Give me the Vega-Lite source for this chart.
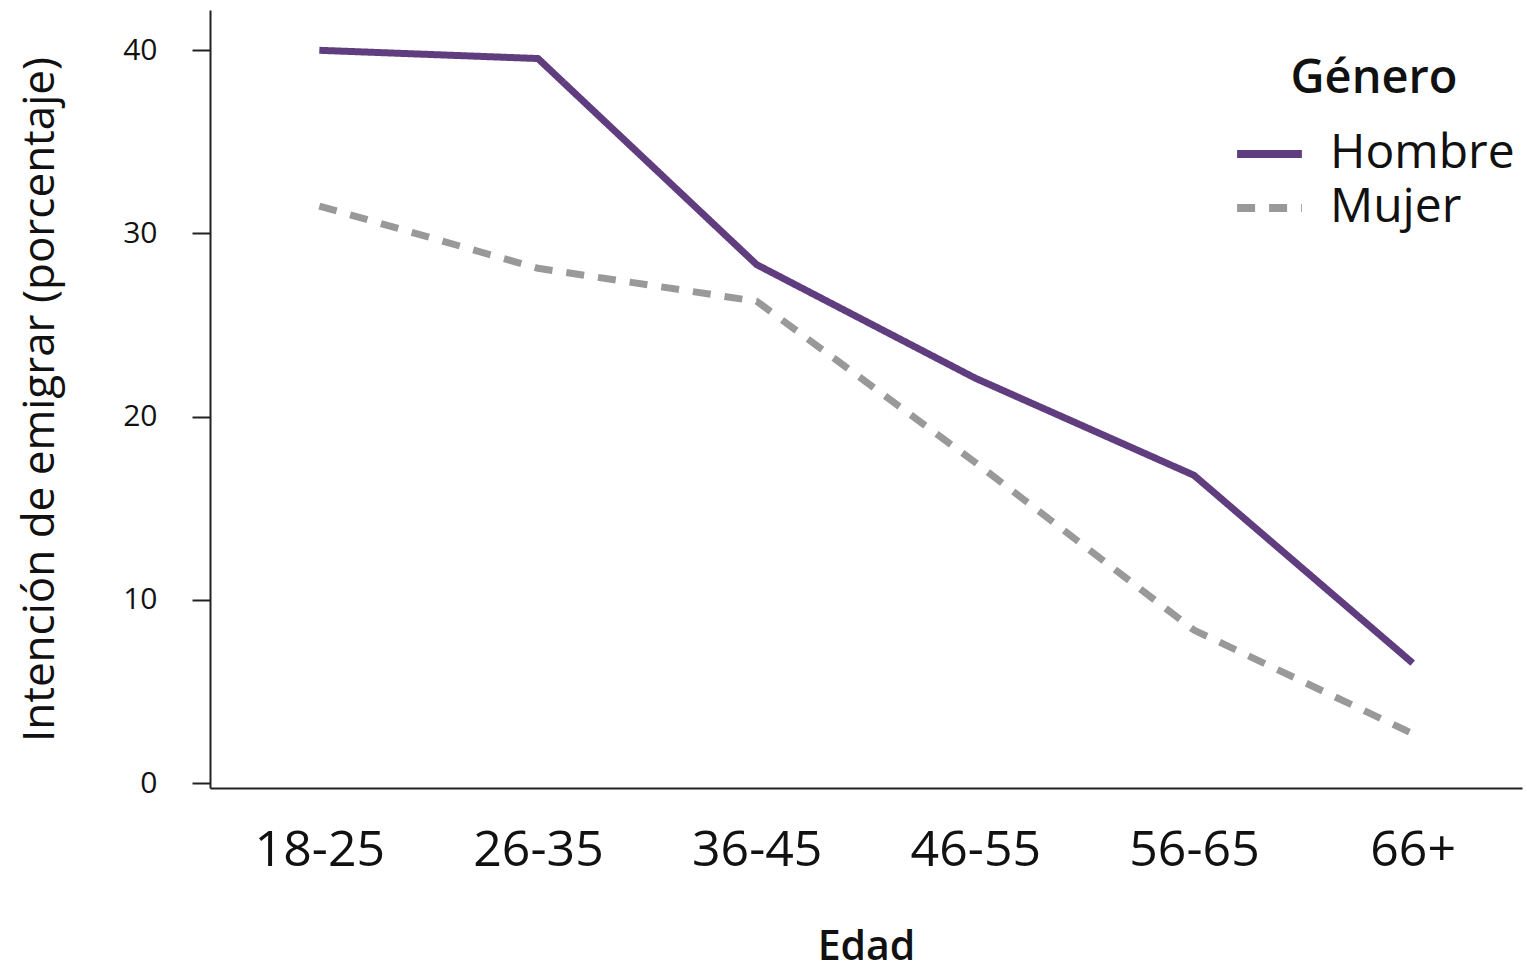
{
  "$schema": "https://vega.github.io/schema/vega-lite/v6.json",
  "autosize": "none",
  "width": 1312,
  "height": 778,
  "padding": {"left": 210, "top": 10, "right": 5, "bottom": 184},
  "background": "white",
  "config": {
    "view": {"stroke": null},
    "font": "Open Sans"
  },
  "data": {
    "values": [
      {"Edad": "18-25", "Genero": "Hombre", "valor": 40.0},
      {"Edad": "26-35", "Genero": "Hombre", "valor": 39.55},
      {"Edad": "36-45", "Genero": "Hombre", "valor": 28.3},
      {"Edad": "46-55", "Genero": "Hombre", "valor": 22.1},
      {"Edad": "56-65", "Genero": "Hombre", "valor": 16.8},
      {"Edad": "66+", "Genero": "Hombre", "valor": 6.55},
      {"Edad": "18-25", "Genero": "Mujer", "valor": 31.5},
      {"Edad": "26-35", "Genero": "Mujer", "valor": 28.1},
      {"Edad": "36-45", "Genero": "Mujer", "valor": 26.3},
      {"Edad": "46-55", "Genero": "Mujer", "valor": 17.5},
      {"Edad": "56-65", "Genero": "Mujer", "valor": 8.35},
      {"Edad": "66+", "Genero": "Mujer", "valor": 2.7}
    ]
  },
  "mark": {"type": "line", "strokeWidth": 7, "strokeCap": "butt", "strokeJoin": "round"},
  "encoding": {
    "x": {
      "field": "Edad",
      "type": "ordinal",
      "sort": ["18-25", "26-35", "36-45", "46-55", "56-65", "66+"],
      "scale": {"type": "point", "padding": 0.5},
      "axis": {
        "title": "Edad",
        "titleFont": "Open Sans",
        "titleFontSize": 41,
        "titleFontWeight": 600,
        "titleColor": "#111111",
        "titlePadding": 52,
        "labelFont": "Open Sans",
        "labelFontSize": 50,
        "labelColor": "#111111",
        "labelAngle": 0,
        "labelPadding": 37,
        "ticks": false,
        "grid": false,
        "domainColor": "#222222",
        "domainWidth": 2
      }
    },
    "y": {
      "field": "valor",
      "type": "quantitative",
      "scale": {"domain": [-0.27, 42.2], "nice": false, "zero": false},
      "axis": {
        "title": "Intención de emigrar (porcentaje)",
        "titleFont": "Open Sans",
        "titleFontSize": 44,
        "titleFontWeight": "normal",
        "titleColor": "#111111",
        "titlePadding": 60,
        "labelFont": "Open Sans",
        "labelFontSize": 30,
        "labelColor": "#111111",
        "labelPadding": 35,
        "values": [0, 10, 20, 30, 40],
        "tickSize": 18,
        "tickWidth": 2,
        "tickColor": "#222222",
        "grid": false,
        "domainColor": "#222222",
        "domainWidth": 2
      }
    },
    "color": {
      "field": "Genero",
      "type": "nominal",
      "scale": {"domain": ["Hombre", "Mujer"], "range": ["#5f3d7f", "#999999"]},
      "legend": {
        "title": "Género",
        "orient": "none",
        "legendX": 1023,
        "legendY": 46,
        "titleFont": "Open Sans",
        "titleFontSize": 47,
        "titleFontWeight": 600,
        "titleColor": "#111111",
        "titlePadding": 24,
        "titleAnchor": "middle",
        "labelFont": "Open Sans",
        "labelFontSize": 48,
        "labelColor": "#111111",
        "labelLimit": 400,
        "labelOffset": 24,
        "symbolType": "stroke",
        "symbolSize": 4200,
        "symbolStrokeWidth": 8,
        "rowPadding": 0,
        "clipHeight": 54
      }
    },
    "strokeDash": {
      "field": "Genero",
      "type": "nominal",
      "scale": {"domain": ["Hombre", "Mujer"], "range": [[1, 0], [18, 14]]},
      "legend": null
    }
  }
}
